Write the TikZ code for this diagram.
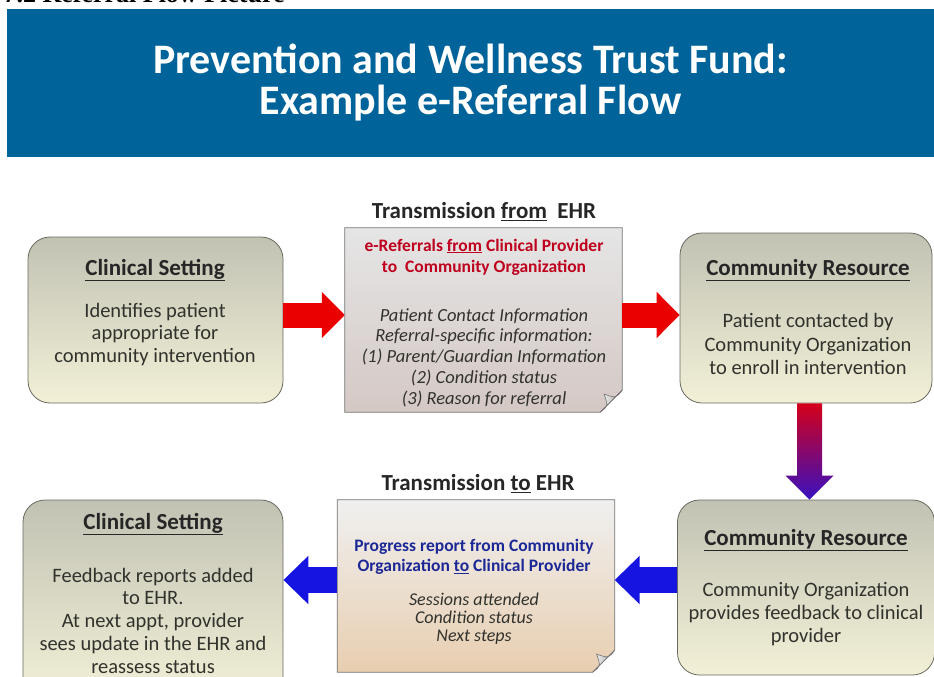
\documentclass[tikz,border=0pt]{standalone}
\usepackage{fontspec}
\setmainfont{Carlito}
\newfontfamily\capfont{Liberation Serif}
\usetikzlibrary{arrows.meta,calc}
\tikzset{>=stealth}

\definecolor{banner}{RGB}{0,99,153}
\definecolor{boxtop}{RGB}{194,194,180}
\definecolor{boxbot}{RGB}{242,240,214}
\definecolor{boxline}{RGB}{105,105,95}
\definecolor{txt}{RGB}{50,50,45}
\definecolor{refred}{RGB}{190,0,30}
\definecolor{repblue}{RGB}{28,40,150}
\definecolor{arrred}{RGB}{235,0,0}
\definecolor{arrblue}{RGB}{22,20,225}
\definecolor{peach}{RGB}{232,206,176}
\definecolor{rose}{RGB}{212,200,196}

\tikzset{
  site/.style={draw=boxline, line width=0.8pt, rounded corners=22pt,
    top color=boxtop, bottom color=boxbot, inner sep=0pt},
  sheet/.style={inner sep=0pt},
  hd/.style={font=\fontsize{23}{26}\selectfont\bfseries, text=black!85},
  bd/.style={font=\fontsize{20.5}{22.5}\selectfont, text=txt, align=center},
  note/.style={font=\fontsize{18.5}{20.8}\selectfont\itshape, text=txt, align=center},
  redarrow/.style={draw=arrred, line width=25pt, -{Triangle[length=23pt,width=45pt]}},
  bluearrow/.style={draw=arrblue, line width=26pt, -{Triangle[length=25pt,width=47pt]}},
}

% paper sheet with a curled corner, drawn round an empty node
\newcommand\papersheet[3]{%
  \shade[top color=#2, bottom color=#3, draw=black!55, line width=0.8pt]
    (#1.north west) -- (#1.north east) -- ([yshift=22pt]#1.south east)
    -- ([xshift=-22pt]#1.south east) -- (#1.south west) -- cycle;
  \shade[left color=white, right color=black!40, draw=black!55, line width=0.6pt]
    ([yshift=22pt]#1.south east) .. controls ([xshift=-6pt,yshift=14pt]#1.south east) ..
    ([xshift=-18pt,yshift=18pt]#1.south east) .. controls ([xshift=-14pt,yshift=6pt]#1.south east) ..
    ([xshift=-22pt]#1.south east) -- cycle;
}

\begin{document}
\begin{tikzpicture}[x=1pt,y=-1pt]
  \useasboundingbox (0,0) rectangle (934,677);

  % heading above the banner (cut by the page edge)
  \node[font=\capfont\fontsize{26}{30}\selectfont\bfseries, anchor=base west] (cap) at (0,2.5) {7.2 Referral Flow Picture};

  % banner
  \node[fill=banner, minimum width=927pt, minimum height=148pt, text=white, align=center,
        font=\fontsize{42}{41}\selectfont\bfseries] (ttl) at (470.5,83)
        {Prevention and Wellness Trust Fund:\\Example e-Referral Flow};

  % boxes
  \node[site, minimum width=255pt, minimum height=166pt] (cs1) at (155.5,320) {};
  \node[sheet, minimum width=277pt, minimum height=184pt] (ref) at (483.5,320) {};
  \node[site, minimum width=252pt, minimum height=170pt] (cr1) at (806,318) {};
  \node[site, minimum width=257pt, minimum height=175pt] (cr2) at (806,587.5) {};
  \node[sheet, minimum width=277pt, minimum height=172pt] (rep) at (476,586) {};
  \node[site, minimum width=260pt, minimum height=200pt] (cs2) at (153,600) {};

  \papersheet{ref}{black!10}{rose}
  \papersheet{rep}{black!6}{peach}

  % top row
  \node[hd] (cs1hd) at (155,270) {\underline{Clinical Setting}};
  \node[bd] (cs1bd) at (155,334.5) {Identifies patient\\appropriate for\\community intervention};

  \node[hd] (refhd) at (484,212) {Transmission \underline{from}\ \ EHR};
  \node[font=\fontsize{17.5}{21}\selectfont\bfseries, text=refred, align=center] (refttl) at (484,257)
    {e-Referrals \underline{from} Clinical Provider\\to\ \ Community Organization};
  \node[note] (refbd) at (484,357.5) {Patient Contact Information\\Referral-specific information:\\(1) Parent/Guardian Information\\(2) Condition status\\(3) Reason for referral};

  \node[hd] (cr1hd) at (808,270) {\underline{Community Resource}};
  \node[bd, font=\fontsize{20.5}{23.5}\selectfont] (cr1bd) at (808,344) {Patient contacted by\\Community Organization\\to enroll in intervention};

  % bottom row
  \node[hd] (cr2hd) at (806,540) {\underline{Community Resource}};
  \node[bd, font=\fontsize{20.5}{23}\selectfont] (cr2bd) at (806,614) {Community Organization\\provides feedback to clinical\\provider};

  \node[hd] (rephd) at (478,484) {Transmission \underline{to} EHR};
  \node[font=\fontsize{17.5}{20.5}\selectfont\bfseries, text=repblue, align=center] (repttl) at (474,557)
    {Progress report from Community\\Organization \underline{to} Clinical Provider};
  \node[note, font=\fontsize{18}{18}\selectfont\itshape] (repbd) at (474,619) {Sessions attended\\Condition status\\Next steps};

  \node[hd] (cs2hd) at (153,524) {\underline{Clinical Setting}};
  \node[bd, font=\fontsize{20.5}{22.75}\selectfont] (cs2bd) at (153,620.5) {Feedback reports added\\to EHR.\\At next appt, provider\\sees update in the EHR and\\reassess status};

  % block arrows
  \draw[redarrow] ([yshift=5pt]cs1.east) -- ([yshift=5pt]cs1.east -| ref.west);
  \draw[redarrow] ([yshift=5pt]ref.east) -- ([yshift=5pt]ref.east -| cr1.west);
  \shade[top color=arrred!90!blue, bottom color=arrblue!85!red]
    ([xshift=-9pt]cr1.south) -- ([xshift=-9pt,yshift=24pt]cr2.north)
    -- ([xshift=-20.5pt,yshift=24pt]cr2.north) -- ([xshift=3.5pt]cr2.north)
    -- ([xshift=27.5pt,yshift=24pt]cr2.north) -- ([xshift=16pt,yshift=24pt]cr2.north)
    -- ([xshift=16pt]cr1.south) -- cycle;
  \draw[bluearrow] ([yshift=7.5pt]cr2.west) -- ([yshift=7.5pt]cr2.west -| rep.east);
  \draw[bluearrow] ([yshift=6pt]rep.west) -- ([yshift=6pt]rep.west -| cs2.east);
\end{tikzpicture}
\end{document}
